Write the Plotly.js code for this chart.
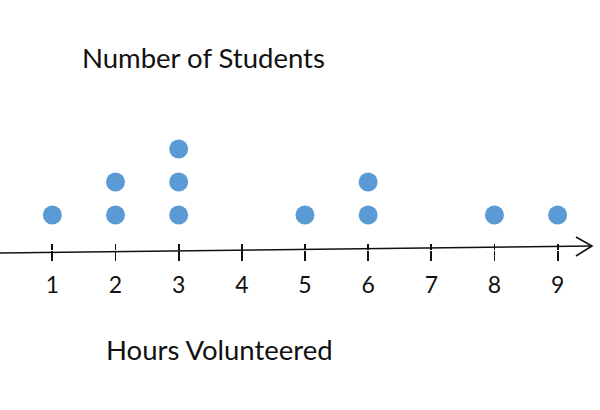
<!DOCTYPE html>
<html>
<head>
<meta charset="utf-8">
<script src="https://cdn.plot.ly/plotly-3.0.1.min.js"></script>
<style>html,body{margin:0;padding:0;background:#fff;}</style>
</head>
<body>
<div id="chart" style="width:600px;height:410px;"></div>
<script>
// Data: each dot = one student
const hours = [1, 2, 2, 3, 3, 3, 5, 6, 6, 8, 9];
const stackLevel = [1, 1, 2, 1, 2, 3, 1, 1, 2, 1, 1];
const tickValues = [1, 2, 3, 4, 5, 6, 7, 8, 9];
const tickLabels = ["1", "2", "3", "4", "5", "6", "7", "8", "9"];
const yTitle = "Number of Students";
const xTitle = "Hours Volunteered";

const FONT = "Lato, 'Open Sans', sans-serif";
const axisPos = 1 - 250 / 410;

const trace = {
  x: hours,
  y: stackLevel,
  type: "scatter",
  mode: "markers",
  marker: { color: "#5B9BD5", size: 19 },
  hoverinfo: "skip",
  showlegend: false
};

const commonX = {
  range: [0.171, 9.671],
  tickmode: "array",
  tickvals: tickValues,
  showgrid: false,
  zeroline: false,
  showline: false,
  ticks: "outside",
  tickcolor: "#111",
  tickwidth: 1.8,
  anchor: "free",
  position: axisPos
};

const layout = {
  width: 600,
  height: 410,
  margin: { l: 0, r: 0, t: 0, b: 0 },
  paper_bgcolor: "#fff",
  plot_bgcolor: "#fff",
  showlegend: false,
  xaxis: Object.assign({}, commonX, {
    ticktext: tickLabels,
    ticklen: 10,
    ticklabelstandoff: 4,
    tickfont: { family: FONT, size: 23, color: "#111" }
  }),
  xaxis2: Object.assign({}, commonX, {
    overlaying: "x",
    matches: "x",
    side: "top",
    ticklen: 6,
    showticklabels: false
  }),
  yaxis: {
    range: [-4.909, 7.515],
    visible: false,
    fixedrange: true
  },
  shapes: [
    { type: "line", xref: "paper", yref: "paper",
      x0: 0, y0: 1 - 253 / 410, x1: 592 / 600, y1: 1 - 246 / 410,
      line: { color: "#111", width: 1.6 } },
    { type: "path", xref: "paper", yref: "paper",
      path: "M " + (576 / 600) + " " + (1 - 237 / 410) + " L " + (592 / 600) + " " + (1 - 246 / 410) + " L " + (576 / 600) + " " + (1 - 256 / 410),
      line: { color: "#111", width: 1.6 } }
  ],
  annotations: [
    { text: yTitle, xref: "paper", yref: "paper", x: 203 / 600, y: 1 - 57 / 410,
      showarrow: false, xanchor: "center", yanchor: "middle",
      font: { family: FONT, size: 27.5, color: "#111" } },
    { text: xTitle, xref: "paper", yref: "paper", x: 220 / 600, y: 1 - 349 / 410,
      showarrow: false, xanchor: "center", yanchor: "middle",
      font: { family: FONT, size: 27.5, color: "#111" } }
  ]
};

// dummy trace to activate xaxis2 ticks
const tickTrace = {
  x: [tickValues[0]], y: [null], xaxis: "x2", yaxis: "y",
  type: "scatter", mode: "markers", showlegend: false, hoverinfo: "skip"
};

Plotly.newPlot("chart", [trace, tickTrace], layout, { staticPlot: true, displayModeBar: false });
</script>
</body>
</html>
